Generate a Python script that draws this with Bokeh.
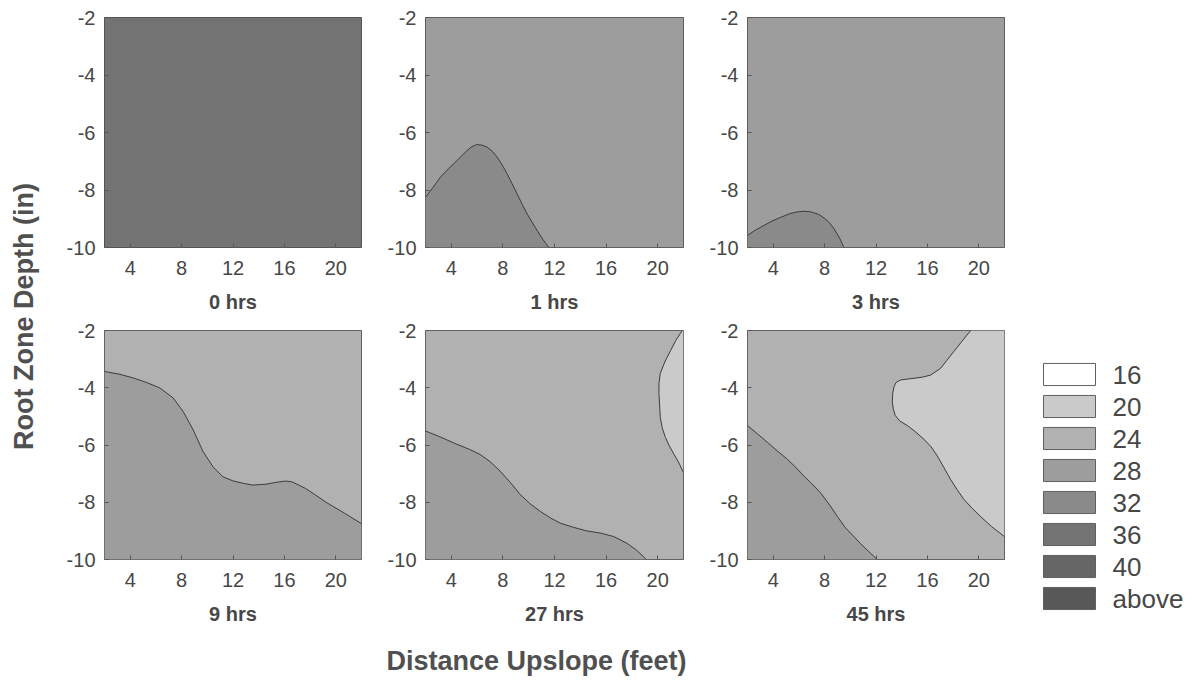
import math
from bokeh.plotting import figure
from bokeh.models import Range1d, FactorRange, FixedTicker, Label
from bokeh.layouts import row, column
from bokeh.core.properties import value
from bokeh.embed import file_html
from bokeh.resources import INLINE

FONT = "Liberation Sans"
TXT = "#474747"

# ---------------- data ----------------
X_RANGE = (2, 22)
Y_RANGE = (-10, -2)
X_TICKS = [4, 8, 12, 16, 20]
Y_TICKS = [-10, -8, -6, -4, -2]

LEVEL_LABELS = ["16", "20", "24", "28", "32", "36", "40", "above"]
LEVEL_COLORS = ["#ffffff", "#cacaca", "#b1b1b1", "#9d9d9d", "#8a8a8a", "#737373", "#666666", "#585858"]

PANEL_TITLES = ["0 hrs", "1 hrs", "3 hrs", "9 hrs", "27 hrs", "45 hrs"]
PANEL_BASE = ["36", "28", "28", "24", "24", "24"]

X_TITLE = "Distance Upslope (feet)"
Y_TITLE = "Root Zone Depth (in)"

# contour lines (distance ft, depth in)
h1_bump_x = [2.0, 2.6, 3.16, 3.8, 4.46, 5.0, 5.5, 5.95, 6.4, 6.78, 7.2, 7.56, 8.0, 8.33, 8.7, 9.1, 9.5, 9.88, 10.3, 10.66, 11.1, 11.56]
h1_bump_y = [-8.25, -7.9, -7.55, -7.25, -6.97, -6.72, -6.52, -6.42, -6.44, -6.51, -6.66, -6.86, -7.17, -7.44, -7.77, -8.13, -8.5, -8.83, -9.15, -9.41, -9.72, -10.0]

h3_bump_x = [2.0, 2.6, 3.29, 3.9, 4.59, 5.3, 5.89, 6.4, 6.92, 7.5, 7.96, 8.4, 8.74, 9.2, 9.5]
h3_bump_y = [-9.58, -9.4, -9.23, -9.08, -8.95, -8.82, -8.76, -8.74, -8.76, -8.84, -8.97, -9.15, -9.35, -9.7, -10.0]

h9_low_x = [2.0, 3.2, 4.26, 5.3, 6.32, 7.35, 8.12, 8.9, 9.67, 10.44, 11.21, 11.98, 12.8, 13.53, 14.56, 15.4, 16.1, 16.62, 17.65, 18.4, 19.2, 20.74, 22.0]
h9_low_y = [-3.43, -3.53, -3.66, -3.82, -4.01, -4.36, -4.83, -5.47, -6.23, -6.76, -7.11, -7.25, -7.34, -7.40, -7.37, -7.3, -7.26, -7.29, -7.52, -7.74, -7.99, -8.40, -8.75]

h27_low_x = [2.0, 3.2, 4.41, 5.4, 6.23, 7.0, 7.78, 8.6, 9.34, 10.1, 10.9, 11.7, 12.45, 13.5, 14.5, 15.6, 16.6, 17.6, 18.3, 18.9, 19.1]
h27_low_y = [-5.51, -5.73, -5.97, -6.15, -6.33, -6.58, -6.91, -7.32, -7.73, -8.05, -8.32, -8.55, -8.73, -8.88, -9.0, -9.08, -9.2, -9.43, -9.65, -9.9, -10.0]
h27_right_x = [21.9, 21.4, 21.0, 20.55, 20.2, 20.1, 20.1, 20.2, 20.35, 20.6, 20.9, 21.27, 21.65, 22.0]
h27_right_y = [-2.0, -2.35, -2.7, -3.1, -3.5, -3.85, -4.2, -5.04, -5.4, -5.74, -6.03, -6.33, -6.63, -6.97]

h45_low_x = [2.0, 2.8, 3.56, 4.3, 5.11, 5.8, 6.4, 7.0, 7.7, 8.4, 9.0, 9.6, 10.3, 10.8, 11.33, 12.1]
h45_low_y = [-5.32, -5.62, -5.91, -6.2, -6.5, -6.8, -7.09, -7.35, -7.68, -8.1, -8.5, -8.88, -9.21, -9.45, -9.68, -10.0]
h45_right_x = [19.37, 18.7, 18.07, 17.5, 17.03, 16.25, 15.6, 14.96, 14.4, 13.9, 13.55, 13.4, 13.3, 13.27, 13.35, 13.5, 13.85, 14.44, 15.1, 15.73, 16.3, 16.77, 17.3, 17.8, 18.3, 18.84, 19.5, 20.14, 21.0, 22.0]
h45_right_y = [-2.0, -2.37, -2.73, -3.05, -3.32, -3.56, -3.63, -3.67, -3.7, -3.73, -3.82, -3.97, -4.2, -4.5, -4.75, -4.97, -5.16, -5.32, -5.55, -5.8, -6.07, -6.38, -6.8, -7.2, -7.55, -7.9, -8.22, -8.5, -8.85, -9.2]

PANEL_REGIONS = [
    [],
    [(h1_bump_x, h1_bump_y, ["bl"], "32")],
    [(h3_bump_x, h3_bump_y, ["bl"], "32")],
    [(h9_low_x, h9_low_y, ["br", "bl"], "28")],
    [(h27_low_x, h27_low_y, ["bl"], "28"), (h27_right_x, h27_right_y, ["tr"], "20")],
    [(h45_low_x, h45_low_y, ["bl"], "28"), (h45_right_x, h45_right_y, ["tr"], "20")],
]

# ---------------- build ----------------
CORNERS = {
    "bl": (X_RANGE[0], Y_RANGE[0]), "br": (X_RANGE[1], Y_RANGE[0]),
    "tl": (X_RANGE[0], Y_RANGE[1]), "tr": (X_RANGE[1], Y_RANGE[1]),
}
COLOR_OF = dict(zip(LEVEL_LABELS, LEVEL_COLORS))

COL_W = [331, 322, 321]
COL_BL = [54, 44, 44]
ROW_H = [320, 312]
ROW_BT = [17, 10]
ROW_BB = [73, 73]


def make_panel(i):
    r, c = divmod(i, 3)
    p = figure(width=COL_W[c], height=ROW_H[r], output_backend="svg", toolbar_location=None,
               x_range=Range1d(*X_RANGE), y_range=Range1d(*Y_RANGE),
               min_border_left=COL_BL[c], min_border_right=20,
               min_border_top=ROW_BT[r], min_border_bottom=ROW_BB[r])
    p.grid.visible = False
    p.background_fill_color = "white"
    p.border_fill_color = "white"
    p.outline_line_color = "#4a4a4a"
    p.outline_line_width = 1

    base = [CORNERS[k] for k in ("bl", "br", "tr", "tl")]
    p.patch([q[0] for q in base], [q[1] for q in base], fill_color=COLOR_OF[PANEL_BASE[i]], line_color=None)
    for xs, ys, corners, lev in PANEL_REGIONS[i]:
        px = list(xs) + [CORNERS[k][0] for k in corners]
        py = list(ys) + [CORNERS[k][1] for k in corners]
        p.patch(px, py, fill_color=COLOR_OF[lev], line_color=None)
        p.line(xs, ys, line_color="#3c3c3c", line_width=1)

    p.xaxis.ticker = FixedTicker(ticks=X_TICKS)
    p.yaxis.ticker = FixedTicker(ticks=Y_TICKS)
    p.yaxis.major_label_overrides = {t: str(t) for t in Y_TICKS}
    for ax in (p.xaxis[0], p.yaxis[0]):
        ax.axis_line_color = None
        ax.major_tick_in = 4
        ax.major_tick_out = 0
        ax.major_tick_line_color = "#555555"
        ax.minor_tick_line_color = None
        ax.major_label_text_font = FONT
        ax.major_label_text_font_size = "20px"
        ax.major_label_text_color = TXT
    p.xaxis.major_label_standoff = 13
    p.yaxis.major_label_standoff = 9
    p.xaxis.axis_label = PANEL_TITLES[i]
    p.xaxis.axis_label_text_font = FONT
    p.xaxis.axis_label_text_font_style = "bold"
    p.xaxis.axis_label_text_font_size = "20px"
    p.xaxis.axis_label_text_color = TXT
    p.xaxis.axis_label_standoff = 13
    return p


panels = [make_panel(i) for i in range(6)]

# x title strip below the panels (ranges in pixels)
xfig = figure(width=974, height=50, output_backend="svg", toolbar_location=None,
              x_axis_type=None, y_axis_type=None, x_range=Range1d(0, 974), y_range=Range1d(50, 0),
              min_border_left=0, min_border_right=0, min_border_top=0, min_border_bottom=0)
xfig.outline_line_color = None
xfig.grid.visible = False
xfig.add_layout(Label(x=486, y=28, text=X_TITLE, text_align="center", text_baseline="middle",
                      text_font=FONT, text_font_size="27px", text_font_style="bold", text_color="#505050"))

# y title strip (ranges in pixels)
yfig = figure(width=50, height=682, output_backend="svg", toolbar_location=None,
              x_axis_type=None, y_axis_type=None, x_range=Range1d(0, 50), y_range=Range1d(682, 0),
              min_border_left=0, min_border_right=0, min_border_top=0, min_border_bottom=0)
yfig.outline_line_color = None
yfig.grid.visible = False
yfig.add_layout(Label(x=23, y=316, text=Y_TITLE, angle=math.pi / 2, text_align="center",
                      text_baseline="middle", text_font=FONT, text_font_size="27px",
                      text_font_style="bold", text_color="#505050"))

# legend figure
leg = figure(width=180, height=682, output_backend="svg", toolbar_location=None,
             x_axis_type=None, y_axis_type=None,
             x_range=Range1d(0, 180), y_range=FactorRange(factors=list(reversed(LEVEL_LABELS)), range_padding=0),
             min_border_left=0, min_border_right=0, min_border_top=358, min_border_bottom=68)
leg.outline_line_color = None
leg.grid.visible = False
leg.rect(x=45, y=LEVEL_LABELS, width=52, height=0.69, fill_color=LEVEL_COLORS,
         line_color="#606060", line_width=1)
leg.text(x=88, y=LEVEL_LABELS, text=LEVEL_LABELS, text_font=value(FONT), text_font_size="26px",
         text_baseline="middle", text_align="left", text_color=TXT)

layout = row(column(yfig),
             column(row(*panels[:3]), row(*panels[3:]), column(xfig)),
             column(leg))

open("out.html", "w").write(file_html(layout, INLINE))
